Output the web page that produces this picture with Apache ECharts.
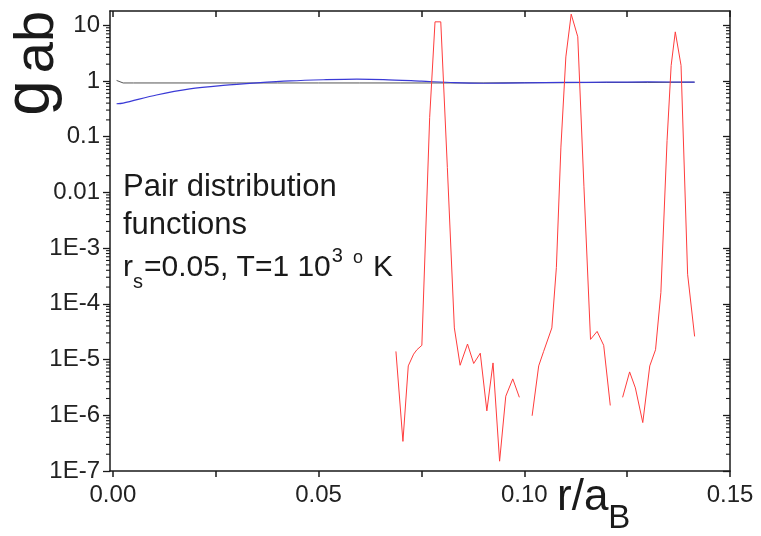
<!DOCTYPE html>
<html>
<head>
<meta charset="utf-8">
<script src="https://cdn.jsdelivr.net/npm/echarts@6/dist/echarts.min.js"></script>
<style>
html,body{margin:0;padding:0;background:#fff;}
#chart{width:761px;height:536px;}
</style>
</head>
<body>
<div id="chart"></div>
<script>
// ---------- data ----------
const xTickValues = [0, 0.05, 0.10, 0.15];
const xTickLabels = ['0.00', '0.05', '0.10', '0.15'];
const xMinorTicks = [0.025, 0.075, 0.125];
const yTickValues = [1e-7, 1e-6, 1e-5, 1e-4, 1e-3, 0.01, 0.1, 1, 10];
const yTickLabels = ['1E-7', '1E-6', '1E-5', '1E-4', '1E-3', '0.01', '0.1', '1', '10'];

const blackX = [0.0009, 0.0025, 0.005, 0.01, 0.02, 0.03, 0.04, 0.05, 0.06, 0.07, 0.08, 0.09, 0.10, 0.11, 0.12, 0.13, 0.1414];
const blackY = [1.02, 0.92, 0.92, 0.92, 0.92, 0.92, 0.92, 0.92, 0.92, 0.92, 0.92, 0.92, 0.93, 0.93, 0.94, 0.94, 0.95];

const blueX = [0.0009, 0.0025, 0.0106, 0.0187, 0.0268, 0.035, 0.0431, 0.0512, 0.0593, 0.0658, 0.075, 0.083, 0.09, 0.10, 0.11, 0.12, 0.13, 0.1414];
const blueY = [0.39, 0.40, 0.56, 0.72, 0.83, 0.92, 1.00, 1.05, 1.08, 1.06, 0.99, 0.93, 0.91, 0.92, 0.94, 0.95, 0.96, 0.95];

const red1X = [0.0688, 0.0705, 0.0718, 0.0731, 0.0739, 0.0751, 0.0770, 0.0783, 0.0797, 0.0813, 0.0830, 0.0844, 0.0862, 0.0877, 0.0893, 0.0909, 0.0924, 0.0940, 0.0955, 0.0972, 0.0988];
const red1Y = [1.4e-5, 3.4e-7, 7.7e-6, 1.25e-5, 1.5e-5, 1.8e-5, 0.22, 11.5, 11.5, 0.028, 3.7e-5, 7.9e-6, 1.9e-5, 8.5e-6, 1.3e-5, 1.2e-6, 8.7e-6, 1.5e-7, 2.2e-6, 4.5e-6, 2.1e-6];
const red2X = [0.1019, 0.1035, 0.1047, 0.1067, 0.1078, 0.1089, 0.1101, 0.1114, 0.1130, 0.1145, 0.1161, 0.1177, 0.1193, 0.1209];
const red2Y = [9.8e-7, 7.7e-6, 1.4e-5, 3.7e-5, 4.5e-4, 0.065, 2.7, 15.8, 6.2, 0.0126, 2.3e-5, 3.2e-5, 1.8e-5, 1.5e-6];
const red3X = [0.1239, 0.1256, 0.1270, 0.1288, 0.1305, 0.1319, 0.1332, 0.1347, 0.1357, 0.1367, 0.1381, 0.1397, 0.1414];
const red3Y = [2.1e-6, 6e-6, 3.1e-6, 7.4e-7, 7.7e-6, 1.5e-5, 1.6e-4, 0.085, 1.9, 7.6, 1.9, 3.4e-4, 2.6e-5];

// ---------- helpers ----------
function pairs(xs, ys) { return xs.map((x, i) => [x, ys[i]]); }
const X_MIN = -0.0007, X_MAX = 0.15, Y_MIN = 1e-7, Y_MAX = 18;
// log-axis minor tick positions (2..9 × each decade)
const yMinor = [];
for (let e = -7; e <= 1; e++) {
  for (let k = 2; k <= 9; k++) {
    const v = k * Math.pow(10, e);
    if (v < Y_MAX) yMinor.push(v);
  }
}
const xAllTicks = xTickValues.concat(xMinorTicks).sort((a, b) => a - b);

const FONT = '"Liberation Sans", Arial, sans-serif';
const mctx = document.createElement('canvas').getContext('2d');
function tw(str, size) { mctx.font = size + 'px ' + FONT; return mctx.measureText(str).width; }

const AX = '#1a1a1a';

function xAx(pos, inside, showLabel) {
  return {
    type: 'value', position: pos, min: X_MIN, max: X_MAX,
    axisLine: { show: true, onZero: false, lineStyle: { color: AX, width: 1.5 } },
    axisTick: { show: true, inside: inside, length: 6, customValues: xAllTicks, lineStyle: { color: AX, width: 1.5 } },
    axisLabel: showLabel ? {
      show: true, customValues: xTickValues, margin: 12,
      formatter: v => xTickLabels[xTickValues.findIndex(t => Math.abs(t - v) < 1e-9)] || '',
      color: '#222', fontSize: 24, fontFamily: FONT
    } : { show: false },
    splitLine: { show: false }
  };
}
function yAx(pos, inside, showLabel) {
  return {
    type: 'log', logBase: 10, position: pos, min: Y_MIN, max: Y_MAX,
    axisLine: { show: true, onZero: false, lineStyle: { color: AX, width: 1.5 } },
    axisTick: { show: true, inside: inside, length: 7, customValues: yTickValues, lineStyle: { color: AX, width: 1.3 } },
    axisLabel: showLabel ? {
      show: true, customValues: yTickValues, margin: 10,
      formatter: v => {
        const i = yTickValues.findIndex(t => Math.abs(Math.log10(t) - Math.log10(v)) < 1e-6);
        return i >= 0 ? yTickLabels[i] : '';
      },
      color: '#222', fontSize: 24, fontFamily: FONT
    } : { show: false },
    splitLine: { show: false }
  };
}

const chart = echarts.init(document.getElementById('chart'), null, { renderer: 'canvas' });

// third annotation line pieces
const L3size = 30, L3small = 20;
const l3x0 = 123, l3mid = 268;
const p1 = 'r', p2 = 's', p3 = '=0.05, T=1 10', p4 = '3', p5 = 'o', p6 = 'K';
const x1 = l3x0;
const x2 = x1 + tw(p1, L3size);
const x3 = x2 + tw(p2, L3small) + 1;
const x4 = x3 + tw(p3, L3size) + 1;
const x5 = x4 + tw(p4, L3small) + 10;
const x6 = x5 + tw(p5, 18) + 10;
const rxA = 557;
const rxB = rxA + tw('r/a', 44);

function txt(text, x, y, size) {
  return {
    type: 'text', x: x, y: y, silent: true,
    style: { text: text, fontSize: size, fontFamily: FONT, fill: '#1a1a1a', align: 'left', verticalAlign: 'middle' }
  };
}
function rot(text, x, y, size) {
  return {
    type: 'text', x: x, y: y, rotation: Math.PI / 2, silent: true,
    style: { text: text, fontSize: size, fontFamily: FONT, fill: '#1a1a1a', align: 'center', verticalAlign: 'middle' }
  };
}

// minor ticks of the log axes, positioned through the axis scales
function minorTickItem(params, api) {
  const v = api.value(1);
  const pl = api.coord([X_MIN, v]);
  const pr = api.coord([X_MAX, v]);
  const st = { stroke: AX, lineWidth: 1.1 };
  return {
    type: 'group',
    children: [
      { type: 'line', shape: { x1: pl[0] - 4, y1: pl[1], x2: pl[0], y2: pl[1] }, style: st },
      { type: 'line', shape: { x1: pr[0] - 4, y1: pr[1], x2: pr[0], y2: pr[1] }, style: st }
    ]
  };
}

chart.setOption({
  animation: false,
  backgroundColor: '#fff',
  grid: { left: 110, right: 31, top: 11, bottom: 65, containLabel: false },
  xAxis: [
    xAx('bottom', false, true),
    xAx('top', true, false)
  ],
  yAxis: [
    yAx('left', false, true),
    yAx('right', true, false)
  ],
  series: [
    { type: 'line', data: pairs(blackX, blackY), showSymbol: false, lineStyle: { color: '#555555', width: 1 }, z: 2 },
    { type: 'line', data: pairs(blueX, blueY), showSymbol: false, smooth: 0.3, lineStyle: { color: '#3a3ad6', width: 1.2 }, z: 3 },
    { type: 'line', data: pairs(red1X, red1Y), showSymbol: false, lineStyle: { color: '#ff3c3c', width: 1 }, z: 4 },
    { type: 'line', data: pairs(red2X, red2Y), showSymbol: false, lineStyle: { color: '#ff3c3c', width: 1 }, z: 4 },
    { type: 'line', data: pairs(red3X, red3Y), showSymbol: false, lineStyle: { color: '#ff3c3c', width: 1 }, z: 4 },
    { type: 'custom', renderItem: minorTickItem, data: yMinor.map(v => [X_MIN, v]), clip: false, silent: true, z: 5 }
  ],
  graphic: [
    rot('g', 31, 98, 64),
    rot('ab', 38, 42, 56),
    txt('Pair distribution', 123, 187, 31),
    txt('functions', 123, 225, 31),
    txt(p1, x1, l3mid, L3size),
    txt(p2, x2, l3mid + 14, L3small),
    txt(p3, x3, l3mid, L3size),
    txt(p4, x4, l3mid - 12, L3small),
    txt(p5, x5, l3mid - 10, 18),
    txt(p6, x6, l3mid, L3size),
    txt('r/a', rxA, 498, 44),
    txt('B', rxB, 519, 33)
  ]
});
</script>
</body>
</html>
